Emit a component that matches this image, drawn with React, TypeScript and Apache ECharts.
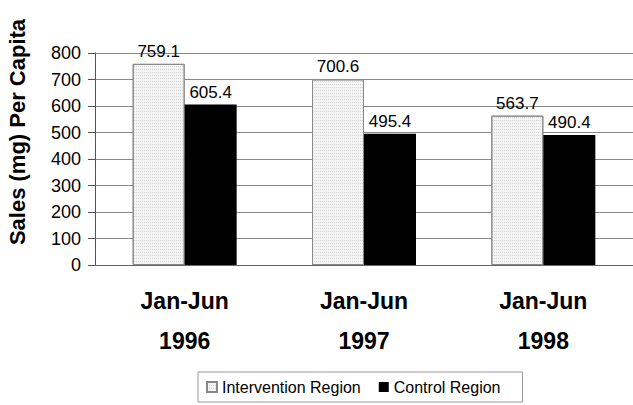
import React, { useEffect, useRef } from "react";
import * as echarts from "echarts";

const categories = ["Jan-Jun\n1996", "Jan-Jun\n1997", "Jan-Jun\n1998"];
const interventionValues = [759.1, 700.6, 563.7];
const controlValues = [605.4, 495.4, 490.4];
const seriesNames = ["Intervention Region", "Control Region"];
const yTitle = "Sales (mg) Per Capita";

const FONT = "Arial, 'Liberation Sans', sans-serif";

const decal = {
  symbol: "rect",
  symbolSize: 0.6,
  dashArrayX: [1, 1],
  dashArrayY: [1, 2],
  color: "#888",
  rotation: 0,
};

export default function App() {
  const ref = useRef<HTMLDivElement>(null);
  useEffect(() => {
    if (!ref.current) return;
    const chart = echarts.init(ref.current, null, { renderer: "svg" });
    chart.setOption({
      animation: false,
      backgroundColor: "#fff",
      textStyle: { fontFamily: FONT },
      grid: { left: 95, right: 0, top: 53, bottom: 140 },
      graphic: [
        {
          type: "text",
          x: 17,
          y: 132,
          rotation: Math.PI / 2,
          style: {
            text: yTitle,
            fontSize: 22,
            fontWeight: "bold",
            fill: "#000",
            fontFamily: FONT,
            align: "center",
            verticalAlign: "middle",
          },
        },
      ],
      legend: {
        top: 372,
        left: 198,
        icon: "rect",
        itemWidth: 10,
        itemHeight: 10,
        itemGap: 18,
        padding: [7, 22, 7, 8],
        borderColor: "#999",
        borderWidth: 1,
        borderRadius: 0,
        textStyle: { fontSize: 16, color: "#000", fontFamily: FONT },
        data: seriesNames,
      },
      xAxis: {
        type: "category",
        data: categories,
        axisLine: { show: true, lineStyle: { color: "#666", width: 1 } },
        axisTick: { show: false },
        axisLabel: {
          margin: 16,
          fontSize: 23,
          fontWeight: "bold",
          lineHeight: 40,
          color: "#000",
          fontFamily: FONT,
        },
      },
      yAxis: {
        type: "value",
        min: 0,
        max: 800,
        interval: 100,
        axisLine: { show: true, lineStyle: { color: "#555", width: 1 } },
        axisTick: { show: true, length: 7, inside: false, lineStyle: { color: "#555" } },
        axisLabel: { fontSize: 18, color: "#000", margin: 14, fontFamily: FONT },
        splitLine: { show: true, lineStyle: { color: "#888", width: 1 } },
      },
      series: [
        {
          name: seriesNames[0],
          type: "bar",
          data: interventionValues,
          barWidth: 52,
          barGap: "0%",
          itemStyle: { color: "#f4f4f4", borderColor: "#888", borderWidth: 1, decal },
          label: { show: true, position: "top", distance: 4, fontSize: 17, color: "#000", fontFamily: FONT, formatter: (p: any) => p.value.toFixed(1) },
        },
        {
          name: seriesNames[1],
          type: "bar",
          data: controlValues,
          barWidth: 52,
          barGap: "0%",
          itemStyle: { color: "#000" },
          label: { show: true, position: "top", distance: 4, fontSize: 17, color: "#000", fontFamily: FONT, formatter: (p: any) => p.value.toFixed(1) },
        },
      ],
    });
    return () => chart.dispose();
  }, []);
  return <div ref={ref} style={{ position: "fixed", left: 0, top: 0, width: 633, height: 405 }} />;
}
